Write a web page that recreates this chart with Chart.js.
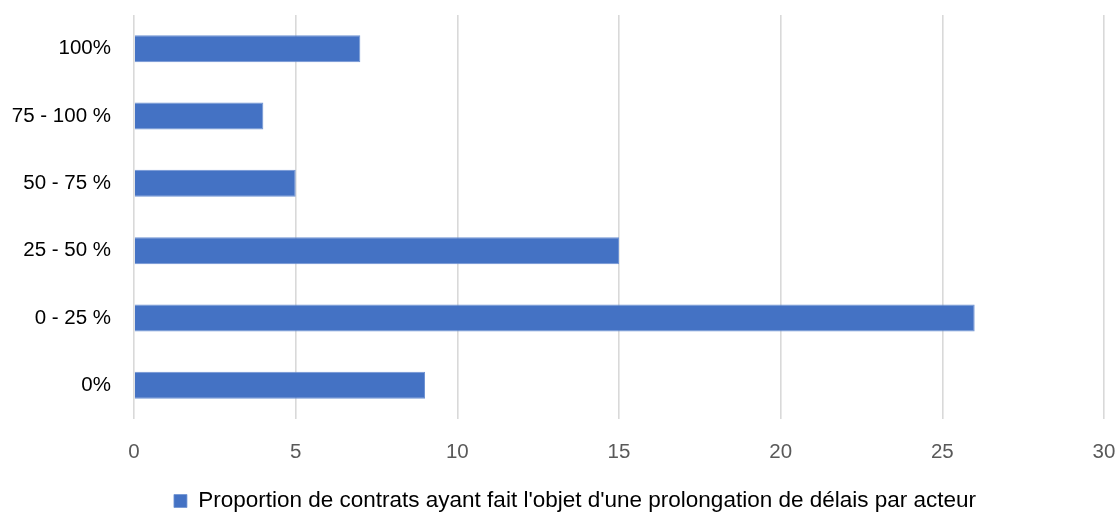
<!DOCTYPE html>
<html>
<head>
<meta charset="utf-8">
<script src="https://cdn.jsdelivr.net/npm/chart.js@4/dist/chart.umd.min.js"></script>
<style>
  html, body { margin: 0; padding: 0; background: #ffffff; }
  #wrap { width: 1117px; height: 512px; }
</style>
</head>
<body>
<div id="wrap"><canvas id="c" width="1117" height="512"></canvas></div>
<script>
const categories = ["100%", "75 - 100 %", "50 - 75 %", "25 - 50 %", "0 - 25 %", "0%"];
const values = [7, 4, 5, 15, 26, 9];
const seriesName = "Proportion de contrats ayant fait l'objet d'une prolongation de délais par acteur";
const xTicks = [0, 5, 10, 15, 20, 25, 30];

const fontFamily = "'Liberation Sans', Arial, sans-serif";

// nudge the bottom legend a little to the right of the canvas centre
const legendShift = {
  id: 'legendShift',
  afterLayout(chart) {
    const lg = chart.legend;
    lg.left += 23;
    lg.right += 23;
  }
};

new Chart(document.getElementById('c'), {
  type: 'bar',
  data: {
    labels: categories,
    datasets: [{
      label: seriesName,
      data: values,
      backgroundColor: '#4472C4',
      borderColor: '#6F93D3',
      borderWidth: { top: 1, bottom: 1, left: 0, right: 1 },
      categoryPercentage: 1.0,
      barPercentage: 0.4
    }]
  },
  plugins: [legendShift],
  options: {
    indexAxis: 'y',
    responsive: false,
    animation: false,
    devicePixelRatio: 1,
    layout: { padding: { top: 15, right: 13, left: 0, bottom: -10.25 } },
    plugins: {
      tooltip: { enabled: false },
      legend: {
        position: 'bottom',
        labels: {
          boxWidth: 13,
          boxHeight: 13,
          padding: 3,
          color: '#000000',
          font: { family: fontFamily, size: 22.5 }
        }
      }
    },
    scales: {
      x: {
        min: 0,
        max: 30,
        afterBuildTicks: (s) => { s.ticks = xTicks.map(v => ({ value: v })); },
        afterFit: (s) => { s.height = 67.75; s.paddingLeft = 0; s.paddingRight = 0; },
        grid: { color: '#D9D9D9', lineWidth: 1.6, drawTicks: false },
        border: { display: false },
        ticks: {
          padding: 21,
          color: '#595959',
          font: { family: fontFamily, size: 20.5 }
        }
      },
      y: {
        afterFit: (s) => { s.width = 134; s.paddingTop = 0; s.paddingBottom = 0; },
        grid: { display: false, drawTicks: false },
        border: { display: false },
        ticks: {
          padding: 23,
          color: '#000000',
          font: { family: fontFamily, size: 20.5 }
        }
      }
    }
  }
});
</script>
</body>
</html>
